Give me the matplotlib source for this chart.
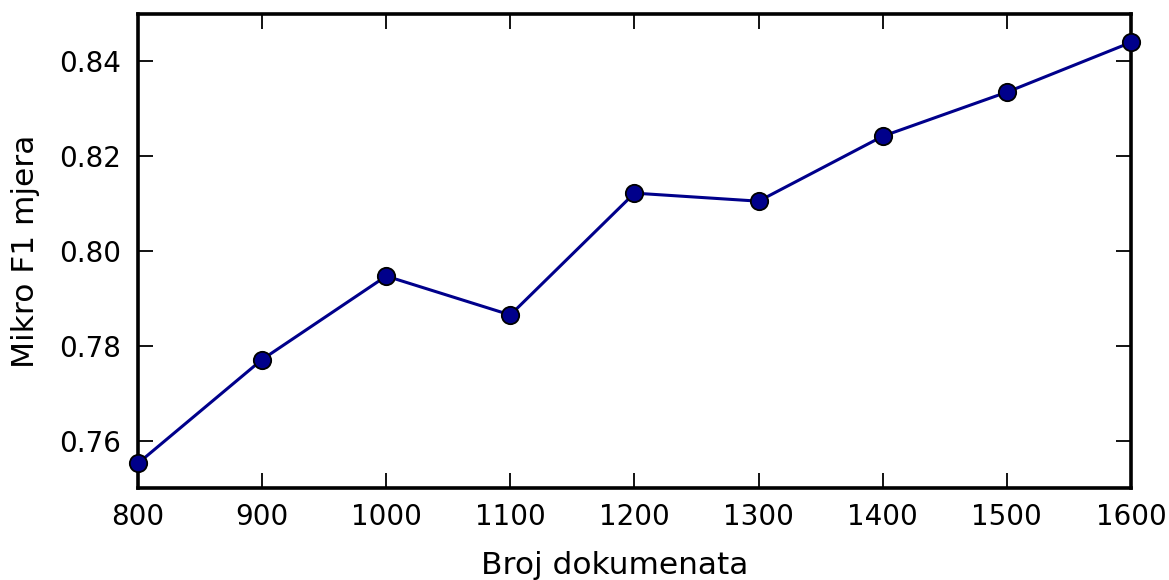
import matplotlib
matplotlib.use('Agg')
import matplotlib.pyplot as plt

# Broj dokumenata vs. mikro F1
num_docs = [800, 900, 1000, 1100, 1200, 1300, 1400, 1500, 1600]
micro_f1 = [0.7552, 0.7771, 0.7947, 0.7865, 0.8122, 0.8105, 0.8242, 0.8335, 0.8440]

fig = plt.figure(figsize=(11.69, 5.8), dpi=100)
ax = fig.add_axes([0.118, 0.1586, 0.8495, 0.8174])

ax.plot(num_docs, micro_f1, color='#00008B', linewidth=2.2,
        marker='o', markersize=12.5, markerfacecolor='#00008B',
        markeredgecolor='black', markeredgewidth=1.3, clip_on=False, zorder=5)

ax.set_xlim(800, 1600)
ax.set_ylim(0.75, 0.85)
ax.set_yticks([0.76, 0.78, 0.80, 0.82, 0.84])
ax.set_xticks(num_docs)

ax.tick_params(direction='in', length=11, width=1.3, labelsize=20,
               top=True, right=True)
ax.tick_params(axis='x', pad=11)
ax.tick_params(axis='y', pad=12)
for s in ax.spines.values():
    s.set_linewidth(2.6)

ax.set_xlabel('Broj dokumenata', fontsize=22.5, labelpad=14)
ax.set_ylabel('Mikro F1 mjera', fontsize=22.5, labelpad=14)
# label in the original sits a bit left of the axes centre
ax.xaxis.label.set_x(0.48)

fig.savefig('out.png', dpi=100)
